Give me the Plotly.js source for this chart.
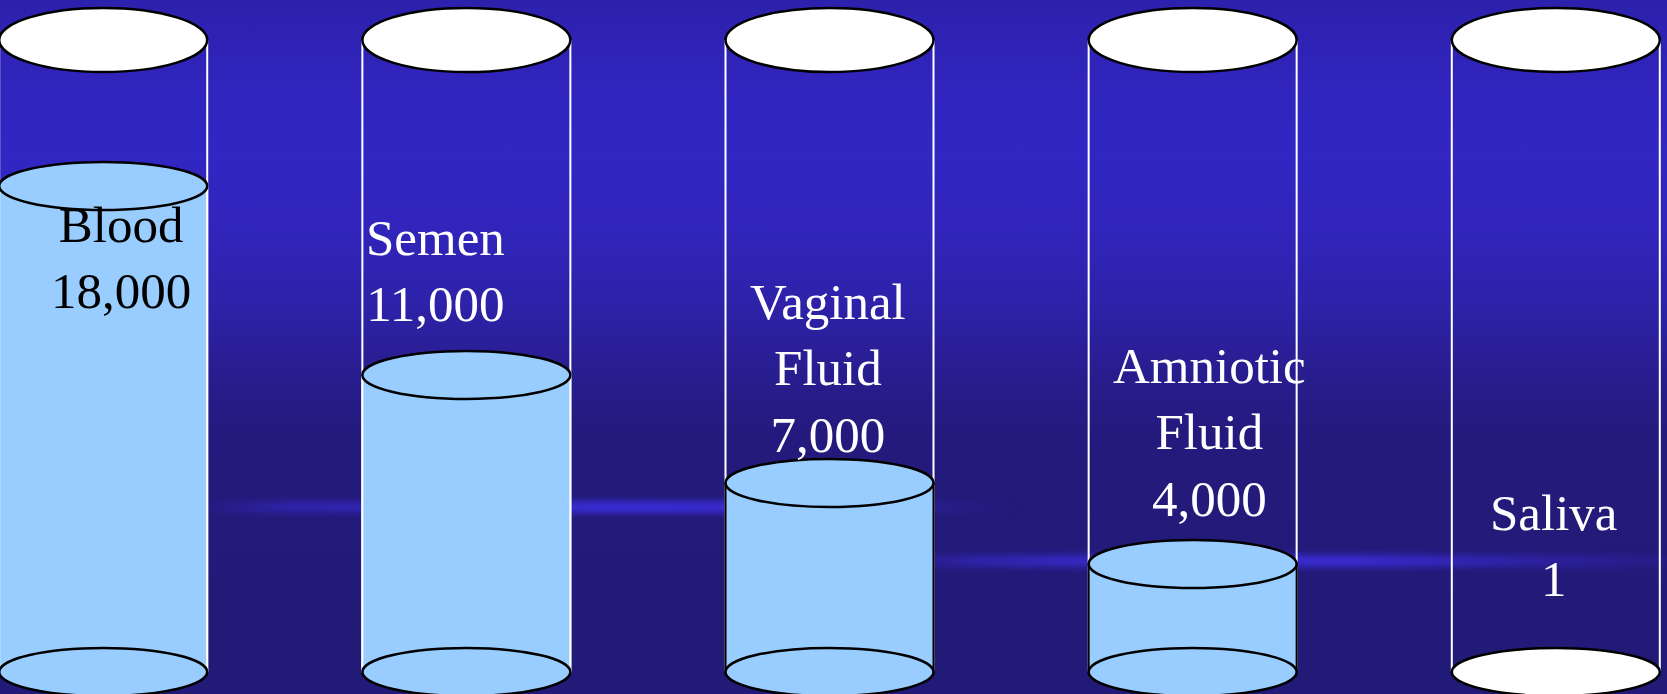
<!DOCTYPE html>
<html>
<head>
<meta charset="utf-8">
<script src="https://cdn.plot.ly/plotly-3.0.1.min.js"></script>
<style>
  html, body { margin: 0; padding: 0; background: #221a77; }
  #stage {
    position: relative; width: 1667px; height: 694px; overflow: hidden;
    background: linear-gradient(to bottom,
      #2c21ac 0%, #3125bf 14%, #3226c3 22%, #3125bd 32%,
      #2d22a8 44%, #281d8e 54%, #241a7e 62%, #231a79 72%, #221a77 100%);
  }
  .streak { position: absolute; filter: blur(3px); }
  #chart { position: absolute; left: 0; top: 0; width: 1667px; height: 694px; }
</style>
</head>
<body>
<div id="stage">
  <div class="streak" style="left:190px; top:501px; width:830px; height:12px;
       background: linear-gradient(to right, rgba(58,44,215,0) 0%, rgba(58,44,215,0.5) 12%,
       rgba(58,44,215,0.65) 30%, rgba(60,46,222,0.9) 50%, rgba(60,46,222,0.85) 66%,
       rgba(58,44,215,0.35) 82%, rgba(58,44,215,0) 100%);"></div>
  <div class="streak" style="left:880px; top:555px; width:787px; height:12px;
       background: linear-gradient(to right, rgba(58,44,215,0) 0%, rgba(58,44,215,0.5) 12%,
       rgba(60,46,222,0.85) 32%, rgba(60,46,222,0.85) 60%, rgba(58,44,215,0.45) 82%,
       rgba(58,44,215,0.15) 100%);"></div>
  <div id="chart"></div>
</div>
<script>
// Cells per fluid sample
const fluids = ['Blood', 'Semen', 'Vaginal Fluid', 'Amniotic Fluid', 'Saliva'];
const counts = [18000, 11000, 7000, 4000, 1];

// Styling
const LIQUID = '#99ccff';
const labelColors = ['black', 'white', 'white', 'white', 'white'];
const sideColors = ['white', 'white', 'black', 'black', 'black'];
// label placement (paper fractions)
const labelX = [0.0726, 0.2615, 0.4970, 0.7253, 0.9322];
const labelY = [0.6282, 0.6102, 0.4687, 0.3761, 0.2133];

const W = 1667, H = 694;
const X_RANGE = [-0.2842, 4.3062];
const PX_PER_CAT = W / (X_RANGE[1] - X_RANGE[0]);
const CYL_W = 208 / PX_PER_CAT;
const HALF = CYL_W / 2;

// vertical scale: value 0 sits 22px above the bottom edge
const PX_PER_UNIT = 0.027;
const Y_RANGE = [-22 / PX_PER_UNIT, (H - 22) / PX_PER_UNIT];
const RIM = (H - 22 - 40) / PX_PER_UNIT;   // top of each cylinder

const maxCount = Math.max(...counts);
const filled = counts.map(v => v / maxCount > 0.01);
const OUTLINE = { color: 'black', width: 2.5 };

const shapes = [];
fluids.forEach((f, i) => {
  // glass walls
  [i - HALF, i + HALF].forEach(xx => shapes.push({
    type: 'line', layer: 'below', xref: 'x', yref: 'y',
    x0: xx, x1: xx, y0: 0, y1: RIM,
    line: { color: 'white', width: 2 }
  }));
  // base of the cylinder
  shapes.push({
    type: 'circle', layer: 'above', xref: 'x', yref: 'y',
    x0: i - HALF, x1: i + HALF, ysizemode: 'pixel', yanchor: 0, y0: -24, y1: 24,
    fillcolor: filled[i] ? LIQUID : 'white', line: OUTLINE
  });
  // liquid surface
  if (filled[i]) {
    shapes.push({
      type: 'circle', layer: 'above', xref: 'x', yref: 'y',
      x0: i - HALF, x1: i + HALF, ysizemode: 'pixel', yanchor: counts[i], y0: -24, y1: 24,
      fillcolor: LIQUID, line: OUTLINE
    });
  }
  // open rim
  shapes.push({
    type: 'circle', layer: 'above', xref: 'x', yref: 'y',
    x0: i - HALF, x1: i + HALF, ysizemode: 'pixel', yanchor: RIM, y0: -32, y1: 32,
    fillcolor: 'white', line: OUTLINE
  });
});

const annotations = fluids.map((f, i) => ({
  xref: 'paper', yref: 'paper', x: labelX[i], y: labelY[i],
  xanchor: 'center', yanchor: 'middle', showarrow: false, align: 'center',
  text: f.split(' ').join('<br>') + '<br>' + counts[i].toLocaleString('en-US'),
  font: { family: '"Liberation Serif", "Times New Roman", serif', size: 51, color: labelColors[i] }
}));

const trace = {
  type: 'bar', x: fluids, y: counts, width: CYL_W,
  marker: { color: LIQUID, line: { color: sideColors, width: 2 } },
  hoverinfo: 'skip'
};

const layout = {
  width: W, height: H,
  margin: { l: 0, r: 0, t: 0, b: 0, pad: 0 },
  paper_bgcolor: 'rgba(0,0,0,0)', plot_bgcolor: 'rgba(0,0,0,0)',
  showlegend: false,
  xaxis: { type: 'category', range: X_RANGE, visible: false, fixedrange: true },
  yaxis: { range: Y_RANGE, visible: false, fixedrange: true },
  shapes: shapes,
  annotations: annotations
};

Plotly.newPlot('chart', [trace], layout, { staticPlot: true, displayModeBar: false });
</script>
</body>
</html>
